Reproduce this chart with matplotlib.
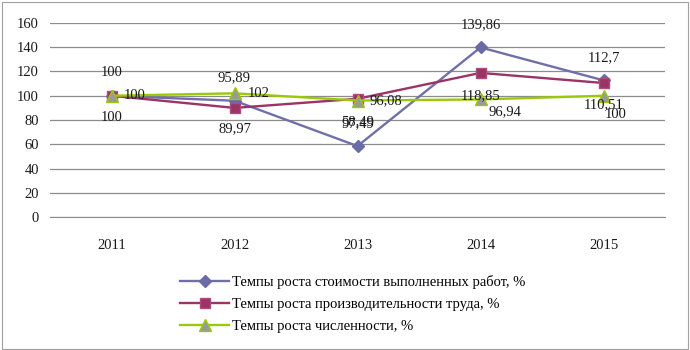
import matplotlib.pyplot as plt
from matplotlib.patches import Rectangle

plt.rcParams['font.family'] = ['Liberation Serif', 'DejaVu Serif']

years = ['2011', '2012', '2013', '2014', '2015']
cost = [100, 95.89, 58.49, 139.86, 112.7]
prod = [100, 89.97, 97.49, 118.85, 110.51]
staff = [100, 102, 96.08, 96.94, 100]

names = ['Темпы роста стоимости выполненных работ, %',
         'Темпы роста производительности труда, %',
         'Темпы роста численности, %']

# offsets of the value labels, in pixels
cost_off = [(0, 23), (0, 23), (0, 24), (0, 23), (0, 23)]
prod_off = [(0, -22), (0, -21), (0, -25), (0, -23), (0, -22)]
staff_off = [(12, 0), (13, 0), (12, 0), (8, -12), (1, -19)]

FS = 10.5

fig = plt.figure(figsize=(6.9, 3.5), dpi=100)
ax = fig.add_axes([50/690, 1-217/350, 615/690, 194/350])

x = range(len(years))
ax.plot(x, cost, color='#7070a8', lw=1.7, marker='D', ms=6, mfc='#6a6aa6', mec='#6a6aa6',
        label=names[0], zorder=3)
ax.plot(x, prod, color='#9b3466', lw=1.7, marker='s', ms=7.5, mfc='#9b3466', mec='#b04c7c',
        label=names[1], zorder=4)
ax.plot(x, staff, color='#9cc80a', lw=1.7, marker='^', ms=8.5, mfc='#999999', mec='#9cc80a',
        label=names[2], zorder=5)

def fmt(v):
    s = ('%.2f' % v).rstrip('0').rstrip('.')
    return s.replace('.', ',')

for i in x:
    ax.annotate(fmt(cost[i]), (i, cost[i]), xytext=cost_off[i], textcoords='offset pixels',
                ha='center', va='center', fontsize=FS, color='#1a1a1a', zorder=6)
    ax.annotate(fmt(prod[i]), (i, prod[i]), xytext=prod_off[i], textcoords='offset pixels',
                ha='center', va='center', fontsize=FS, color='#1a1a1a', zorder=6)
    ax.annotate(fmt(staff[i]), (i, staff[i]), xytext=staff_off[i], textcoords='offset pixels',
                ha='left', va='center', fontsize=FS, color='#1a1a1a', zorder=6)

ax.set_xlim(-0.5, 4.5)
ax.set_ylim(0, 160)
ax.set_yticks(range(0, 161, 20))
ax.set_xticks(list(x))
ax.set_xticklabels(years)
ax.grid(axis='y', color='#8c8c8c', lw=0.9)
ax.set_axisbelow(True)
for s in ['top', 'right', 'left']:
    ax.spines[s].set_visible(False)
ax.spines['bottom'].set_color('#8c8c8c')
ax.tick_params(axis='both', length=0, labelsize=FS, colors='#1a1a1a')
ax.tick_params(axis='x', pad=16)
ax.tick_params(axis='y', pad=8)

fig.legend(loc='upper left', bbox_to_anchor=(174/690, 1-269/350), frameon=False,
           fontsize=FS, handlelength=3.4, handletextpad=0.2, labelspacing=0.62,
           borderaxespad=0)

fig.patches.append(Rectangle((0.003, 0.004), 0.994, 0.99, transform=fig.transFigure,
                             fill=False, ec='#a0a0a0', lw=0.8))

fig.savefig('out.png', dpi=100)
